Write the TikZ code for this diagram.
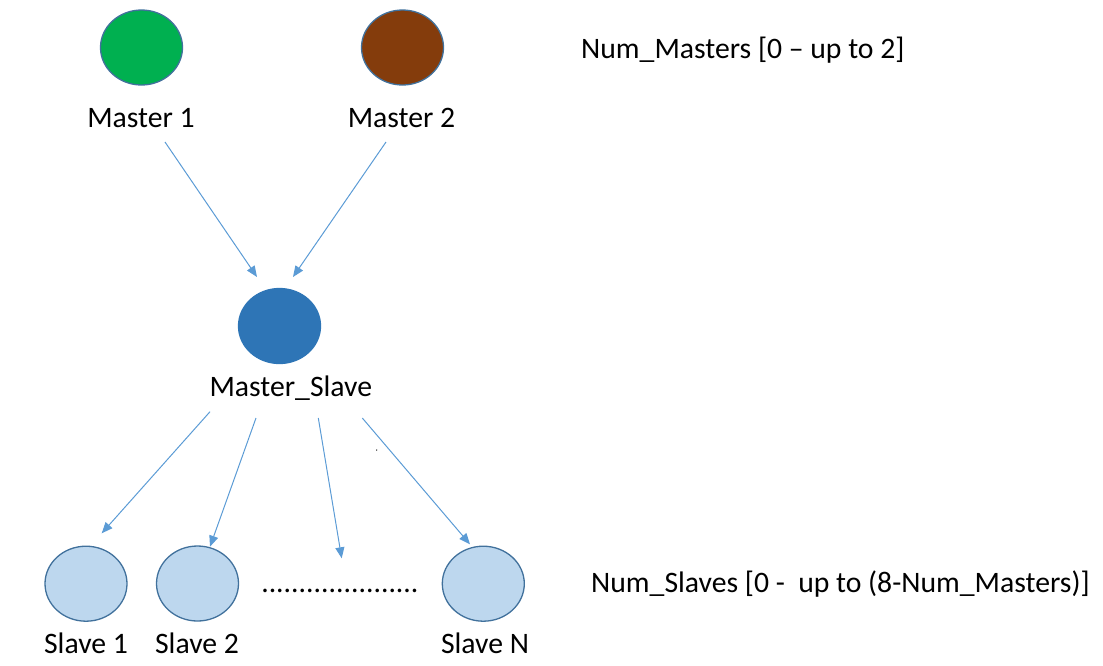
\documentclass[tikz,border=0pt]{standalone}
\usepackage{fontspec}
\setmainfont{Carlito}
\usetikzlibrary{arrows.meta}
\definecolor{arrowblue}{HTML}{5B9BD5}
\definecolor{edgeblue}{HTML}{41719C}
\definecolor{mgreen}{HTML}{00B050}
\definecolor{mbrown}{HTML}{843C0C}
\definecolor{msblue}{HTML}{2E75B6}
\definecolor{slblue}{HTML}{BDD7EE}
\tikzset{
  blob/.style={ellipse, draw=edgeblue, line width=1.3pt, minimum width=82pt, minimum height=75pt, inner sep=0pt},
  lbl/.style={anchor=base, inner sep=0pt, font=\fontsize{29.7pt}{35pt}\selectfont},
  note/.style={anchor=base west, inner sep=0pt, font=\fontsize{29.7pt}{35pt}\selectfont},
  arr/.style={draw=arrowblue, line width=1pt, -{Triangle[length=11pt,width=9pt]}}
}
\usetikzlibrary{shapes.geometric}
\begin{document}
\begin{tikzpicture}[x=1pt,y=-1pt]
\useasboundingbox (0,0) rectangle (1103,665);
% masters
\node[blob, fill=mgreen] (m1) at (141.5,47.5) {};
\node[blob, fill=mbrown] (m2) at (402.5,47.5) {};
\node[lbl] (m1l) at (141,127.7) {Master 1};
\node[lbl] (m2l) at (401.5,127.7) {Master 2};
\node[note] (nm) at (581,58) {Num\_Masters [0 – up to 2]};
% master slave
\node[blob, fill=msblue, draw=msblue] (ms) at (279.5,326) {};
\node[lbl] (msl) at (290.8,396.7) {Master\_Slave};
% slaves
\node[blob, fill=slblue] (s1) at (86,583.7) {};
\node[blob, fill=slblue] (s2) at (197.5,583.5) {};
\node[blob, fill=slblue] (sn) at (483.3,583.7) {};
\node[lbl] (s1l) at (86,653.3) {Slave 1};
\node[lbl] (s2l) at (197,653.3) {Slave 2};
\node[lbl] (snl) at (485,653.3) {Slave N};
\node[lbl] (dots) at (340,592.7) {.....................};
\node[note] (ns) at (591,592.7) {Num\_Slaves [0 -\ \ up to (8-Num\_Masters)]};
% connector ends
\coordinate (a1s) at (165,142);  \coordinate (a1e) at (257,277);
\coordinate (a2s) at (386,142);  \coordinate (a2e) at (293,277);
\coordinate (b1s) at (210,411.7); \coordinate (b1e) at (101.7,533.3);
\coordinate (b2s) at (256,418);   \coordinate (b2e) at (210,546.7);
\coordinate (b3s) at (318.3,418); \coordinate (b3e) at (341.7,558.3);
\coordinate (b4s) at (362.3,418); \coordinate (b4e) at (470,544.3);
\draw[arr] (a1s) -- (a1e);
\draw[arr] (a2s) -- (a2e);
\draw[arr] (b1s) -- (b1e);
\draw[arr] (b2s) -- (b2e);
\draw[arr] (b3s) -- (b3e);
\draw[arr] (b4s) -- (b4e);
\fill (376.7,450) circle (0.7pt);
\end{tikzpicture}
\end{document}
